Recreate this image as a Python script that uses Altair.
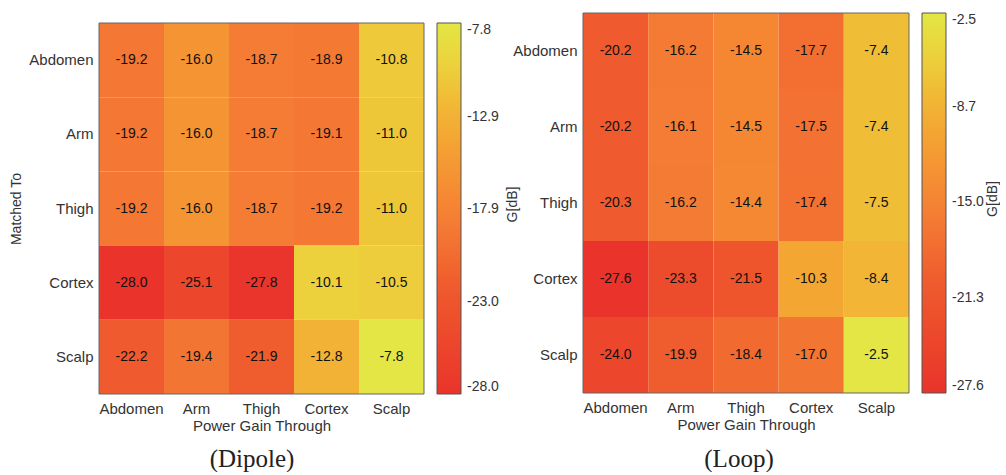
import altair as alt
import pandas as pd

tissues = ["Abdomen", "Arm", "Thigh", "Cortex", "Scalp"]

# rows = Matched To, columns = Power Gain Through
dipole_abdomen = [-19.2, -16.0, -18.7, -18.9, -10.8]
dipole_arm = [-19.2, -16.0, -18.7, -19.1, -11.0]
dipole_thigh = [-19.2, -16.0, -18.7, -19.2, -11.0]
dipole_cortex = [-28.0, -25.1, -27.8, -10.1, -10.5]
dipole_scalp = [-22.2, -19.4, -21.9, -12.8, -7.8]

loop_abdomen = [-20.2, -16.2, -14.5, -17.7, -7.4]
loop_arm = [-20.2, -16.1, -14.5, -17.5, -7.4]
loop_thigh = [-20.3, -16.2, -14.4, -17.4, -7.5]
loop_cortex = [-27.6, -23.3, -21.5, -10.3, -8.4]
loop_scalp = [-24.0, -19.9, -18.4, -17.0, -2.5]

dipole_ticks = [-28.0, -23.0, -17.9, -12.9, -7.8]
loop_ticks = [-27.6, -21.3, -15.0, -8.7, -2.5]

cmap_stops = [0.0, 0.15, 0.3, 0.45, 0.6, 0.75, 0.88, 1.0]
cmap_colors = ["#e9332b", "#ec482c", "#ef5c2e", "#f47a34", "#f59533",
               "#f2b135", "#ecd03c", "#e3e644"]

FONT = "Liberation Sans"


def frame(rows):
    recs = []
    for m, vals in zip(tissues, rows):
        for p, v in zip(tissues, vals):
            recs.append({"matched": m, "through": p, "g": v, "lbl": f"{v:.1f}"})
    return pd.DataFrame(recs)


def panel(rows, ticks, W, H, top, label, show_ytitle, g_x, lab_x, lab_y):
    df = frame(rows)
    lo, hi = min(ticks), max(ticks)
    dom = [lo + t * (hi - lo) for t in cmap_stops]
    plot_h = H - top
    base = alt.Chart(df)
    xenc = alt.X("through:N", sort=tissues,
                 scale=alt.Scale(paddingInner=0, paddingOuter=0),
                 axis=alt.Axis(title="Power Gain Through", labelAngle=0,
                               ticks=False, domain=False, labelPadding=7,
                               titlePadding=2, labelFontSize=15,
                               titleFontSize=15, titleFontWeight="normal",
                               labelFont=FONT, titleFont=FONT,
                               labelColor="#333", titleColor="#333"))
    yenc = alt.Y("matched:N", sort=tissues,
                 scale=alt.Scale(paddingInner=0, paddingOuter=0, range=[top, H]),
                 axis=alt.Axis(title="Matched To" if show_ytitle else None,
                               ticks=False, domain=False, labelPadding=6,
                               titlePadding=5, labelFontSize=15,
                               titleFontSize=14, titleFontWeight="normal",
                               labelFont=FONT, titleFont=FONT,
                               labelColor="#333", titleColor="#333"))
    rect = base.mark_rect().encode(
        x=xenc,
        y=yenc,
        color=alt.Color("g:Q",
                        scale=alt.Scale(domain=dom, range=cmap_colors),
                        legend=alt.Legend(orient="none", legendX=W + 13, legendY=top,
                                          title=None, direction="vertical",
                                          gradientLength=plot_h, gradientThickness=24,
                                          values=ticks, format=".1f",
                                          labelExpr="replace(datum.label, '\u2212', '-')",
                                          labelFontSize=14, labelFont=FONT,
                                          labelColor="#333", labelOffset=6,
                                          labelOverlap=False,
                                          labelBaseline="middle",
                                          gradientStrokeColor="#555",
                                          gradientStrokeWidth=1)),
    )
    text = base.mark_text(fontSize=14, font=FONT, color="#111").encode(
        x=alt.X("through:N", sort=tissues),
        y=alt.Y("matched:N", sort=tissues),
        text="lbl:N",
    )
    border = alt.Chart(pd.DataFrame({"a": [0]})).mark_rect(
        fillOpacity=0, stroke="#666", strokeWidth=1
    ).encode(x=alt.value(0), x2=alt.value(W), y=alt.value(top), y2=alt.value(H))
    gdb = alt.Chart(pd.DataFrame({"t": ["G[dB]"]})).mark_text(
        fontSize=14, font=FONT, color="#333", angle=270, baseline="middle"
    ).encode(text="t:N", x=alt.value(g_x), y=alt.value(top + plot_h / 2 - 4))
    cap = alt.Chart(pd.DataFrame({"t": [label]})).mark_text(
        fontSize=25, font="Liberation Serif", color="#222", baseline="middle"
    ).encode(text="t:N", x=alt.value(lab_x), y=alt.value(lab_y))
    return alt.layer(rect, text, border, gdb, cap).properties(width=W, height=H)


left = panel([dipole_abdomen, dipole_arm, dipole_thigh, dipole_cortex, dipole_scalp],
             dipole_ticks, 325, 381, 10, "(Dipole)", True, 414, 153, 446)
right = panel([loop_abdomen, loop_arm, loop_thigh, loop_cortex, loop_scalp],
              loop_ticks, 326, 380, 0, "(Loop)", False, 410, 156, 446)

chart = alt.hconcat(left, right, spacing=-8).resolve_scale(
    color="independent", x="independent", y="independent"
).properties(
    padding={"left": 9, "top": 12, "right": 0, "bottom": 0}
).configure_view(stroke=None)

chart.save("out.html", embed_options={"renderer": "svg", "actions": False})
